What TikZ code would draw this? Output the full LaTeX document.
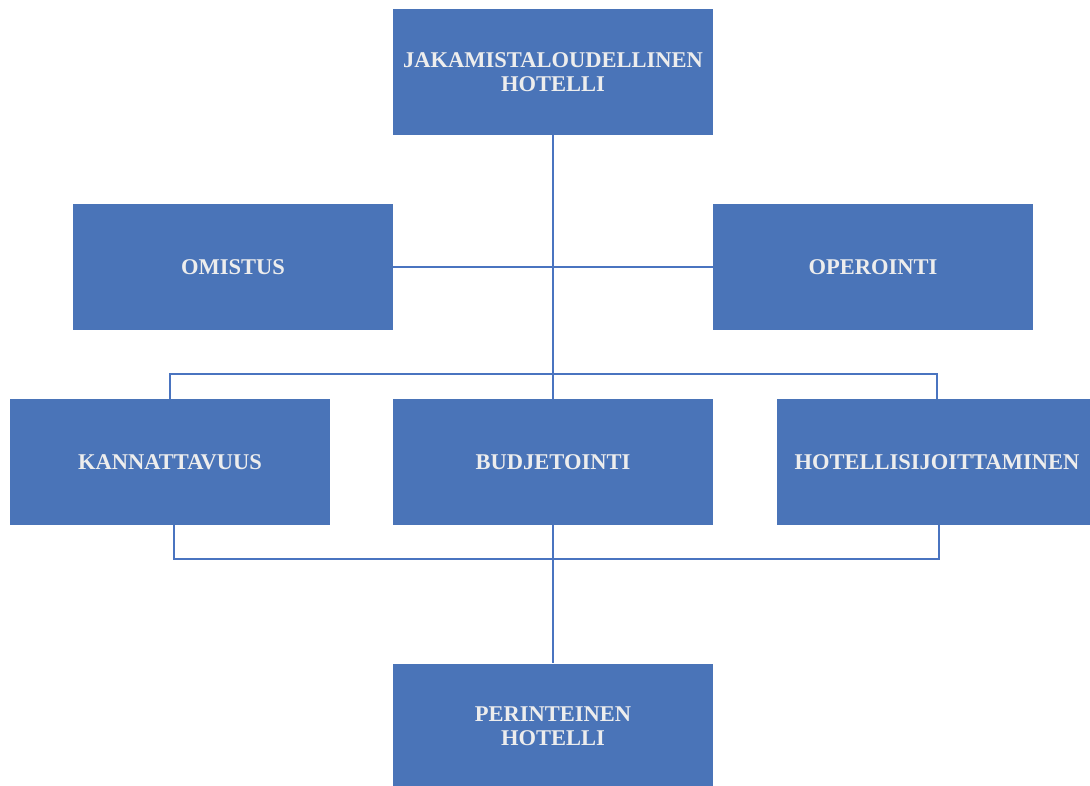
\documentclass[tikz,border=0pt]{standalone}
\usepackage{fontspec}
\setmainfont{Liberation Serif}
\usetikzlibrary{backgrounds}
\definecolor{boxblue}{HTML}{4A74B8}
\definecolor{lineblue}{HTML}{4A74C0}
\definecolor{txtgray}{HTML}{EDEDED}
\begin{document}
\begin{tikzpicture}[x=1pt,y=-1pt,
  box/.style={fill=boxblue, draw=none, minimum width=320pt, minimum height=126pt,
    inner sep=0pt, align=center, text=txtgray,
    font=\fontsize{22.5}{24}\selectfont\bfseries},
  conn/.style={draw=lineblue, line width=1.8pt}]
\useasboundingbox (0,0) rectangle (1090,786);
\node[box] (top)   at (553,72)  {JAKAMISTALOUDELLINEN\\HOTELLI};
\node[box] (omis)  at (233,267) {OMISTUS};
\node[box] (oper)  at (873,267) {OPEROINTI};
\node[box] (kann)  at (170,462) {KANNATTAVUUS};
\node[box] (budj)  at (553,462) {BUDJETOINTI};
\node[box] (hsij)  at (937,462) {HOTELLISIJOITTAMINEN};
\node[box] (per)   at (553,726.5) {PERINTEINEN\\HOTELLI};
\coordinate (upjoin) at (553,374);
\coordinate (lowL) at (174,559);
\coordinate (lowR) at (939,559);
\begin{pgfonlayer}{background}
  \draw[conn] (top.south) -- (budj.north);
  \draw[conn] (omis.east) -- (oper.west);
  \draw[conn] (kann.north) |- (upjoin) -| (hsij.north);
  \draw[conn] (kann.south -| lowL) -- (lowL) -- (lowR) -- (hsij.south -| lowR);
  \draw[conn] (budj.south) -- (per.north);
\end{pgfonlayer}
\end{tikzpicture}
\end{document}
